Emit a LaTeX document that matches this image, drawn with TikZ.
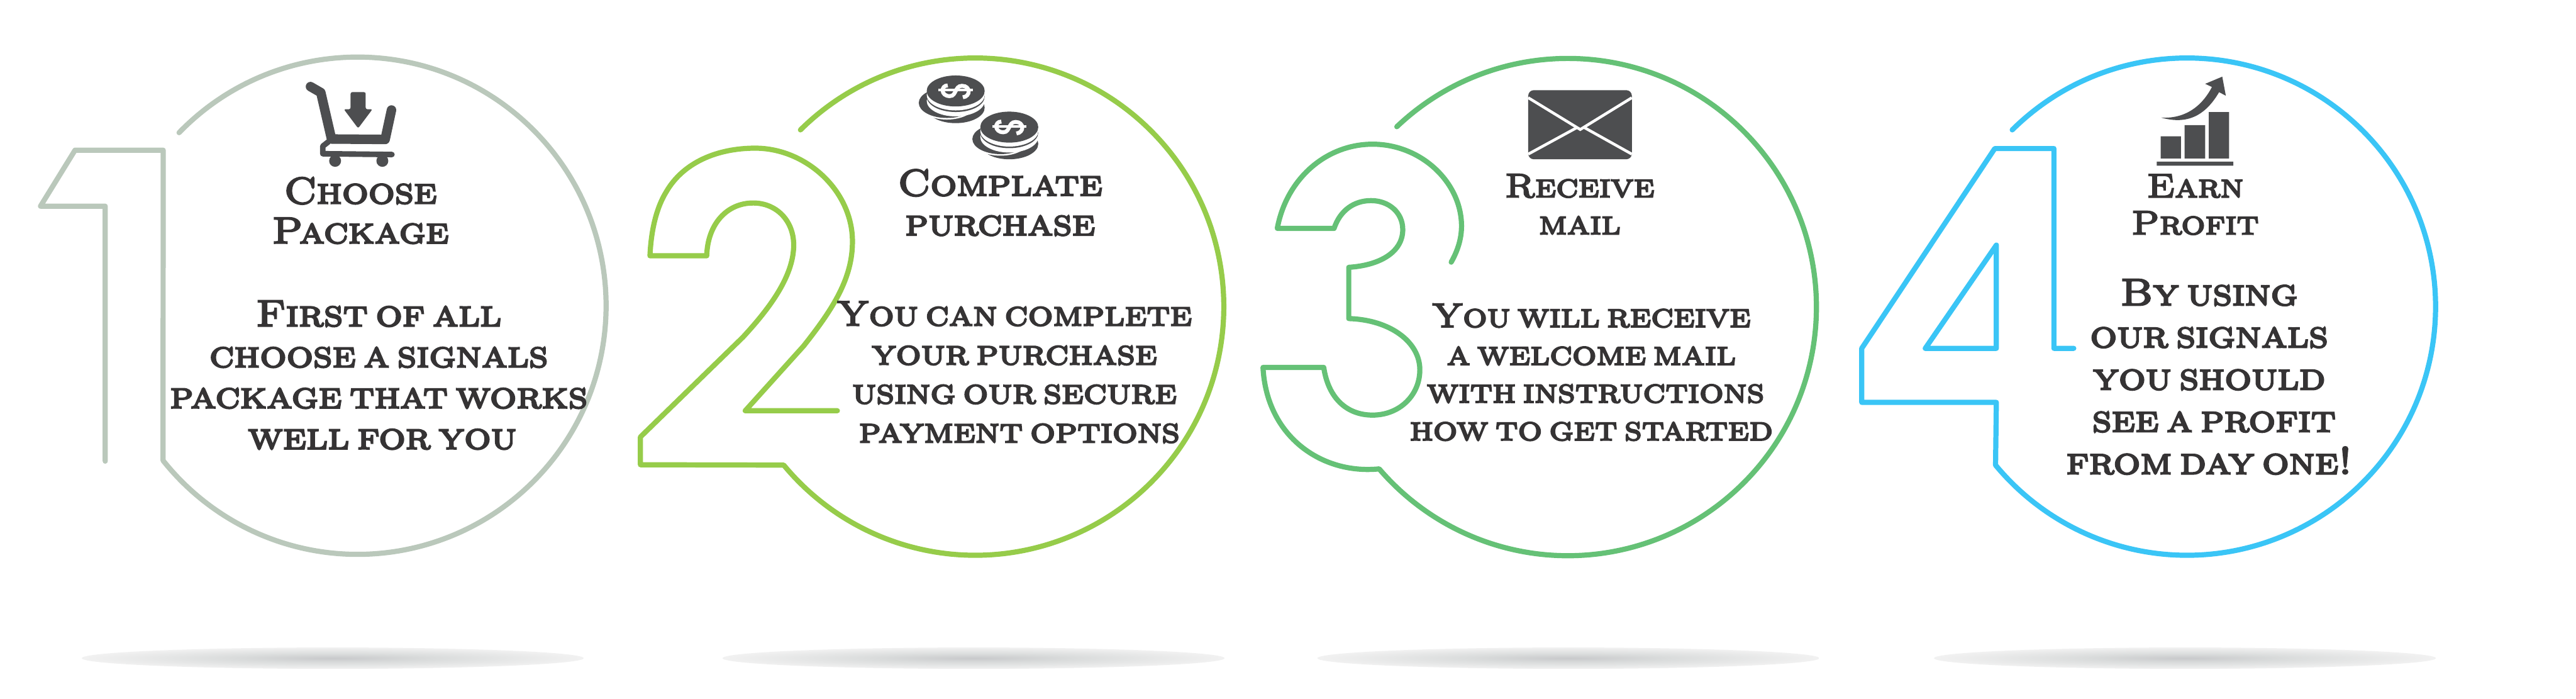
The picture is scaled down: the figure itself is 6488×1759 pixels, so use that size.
\documentclass[tikz,border=0pt]{standalone}
\usepackage{fontspec}
\usepackage{xcolor}
\usetikzlibrary{positioning}
\newfontfamily\engrave[FakeBold=4.5,FakeStretch=1.12,WordSpace=0.5]{Latin Modern Roman Caps}
\definecolor{sagering}{HTML}{BAC8BB}
\definecolor{limering}{HTML}{96CC4A}
\definecolor{grassring}{HTML}{65C176}
\definecolor{skyring}{HTML}{3AC5F6}
\definecolor{inktext}{HTML}{353334}
\definecolor{iconfill}{HTML}{4D4E50}
\definecolor{floorcore}{HTML}{C8C9CB}
\definecolor{floormid}{HTML}{DADCDC}
\definecolor{floorrim}{HTML}{F0F0F0}
\pgfdeclareradialshading{floorshade}{\pgfpoint{0bp}{0bp}}{color(0bp)=(floorcore); color(10bp)=(floormid); color(24bp)=(floorrim); color(35bp)=(white); color(50bp)=(white)}

\begin{document}
\begin{tikzpicture}[x=0.01cm,y=-0.01cm,
  ring/.style={line width=3.7pt,line cap=round,line join=round},
  steptext/.style 2 args={align=center,text=inktext,inner sep=0pt,
                font=\engrave\fontsize{#1}{#2}\selectfont},
  icon/.style={fill=iconfill,draw=none}]
  \useasboundingbox (0,0) rectangle (6488,1759);
  \foreach \cx in {838,2452,3950,5503}
    \shade[shading=floorshade] (\cx,1657) ellipse (632 and 27);

  \draw[ring,sagering] (451,334) arc[start angle=-135.9,end angle=141.5,radius=626]
    -- (411,378) -- (189,378) -- (102,519) -- (265,519) -- (265,1161);
  \draw[ring,limering] (2016,327) arc[start angle=-134.7,end angle=140.4,radius=626]
    -- (1613,1170) -- (1613,1100) -- (1871,849)
    .. controls (1930,785) and (1999,700) .. (1999,617)
    .. controls (1999,555) and (1955,511) .. (1897,511)
    .. controls (1830,511) and (1782,565) .. (1780,644) -- (1637,644)
    .. controls (1640,575) and (1655,520) .. (1678,483)
    .. controls (1720,410) and (1805,373) .. (1902,373)
    .. controls (2030,373) and (2147,480) .. (2147,608)
    .. controls (2147,700) and (2100,775) .. (2024,871)
    -- (1877,1034) -- (2109,1034);
  \draw[ring,grassring] (3518,319) arc[start angle=-133.5,end angle=139.4,radius=626]
    .. controls (3330,1195) and (3190,1100) .. (3181,925) -- (3334,925)
    .. controls (3345,1000) and (3390,1045) .. (3457,1045)
    .. controls (3525,1045) and (3576,995) .. (3576,931)
    .. controls (3576,860) and (3500,805) .. (3397,802) -- (3397,673)
    .. controls (3475,668) and (3533,635) .. (3533,578)
    .. controls (3533,535) and (3498,505) .. (3453,505)
    .. controls (3410,505) and (3375,530) .. (3360,575) -- (3217,575)
    .. controls (3240,450) and (3340,363) .. (3457,363)
    .. controls (3580,363) and (3681,460) .. (3681,569)
    .. controls (3681,600) and (3672,630) .. (3655,660);
  \draw[ring,skyring] (5068,327) arc[start angle=-134.7,end angle=140.4,radius=626]
    -- (5028,1013) -- (4689,1013) -- (4689,877) -- (5024,374) -- (5173,374)
    -- (5173,877) -- (5223,877);
  \draw[ring,skyring] (5028,617) -- (5028,877) -- (4849,877) -- cycle;

  \draw[iconfill,line width=6.8pt,line cap=round,line join=round]
    (782,218) -- (808,233) -- (835,350) -- (970,351) -- (986,277);
  \draw[iconfill,line width=4pt,line cap=round,line join=round]
    (827,357) -- (813,368) -- (813,387) -- (987,389);
  \fill[icon] (844,405) circle (15) (963,405) circle (15);
  \fill[icon,rounded corners=1.2pt] (883,232) -- (921,232) -- (921,275) -- (938,275)
    -- (902,323) -- (866,275) -- (883,275) -- cycle;

  \foreach \cx/\cy in {2407/229,2542/320} {
    \begin{scope}[shift={(\cx,\cy)}]
      \fill[icon] (0,42) ellipse (73 and 39);
      \fill[white] (-22,34) ellipse (71 and 38);
      \fill[icon] (-22,30) ellipse (71 and 38);
      \fill[white] (0,25) ellipse (73 and 39);
      \fill[icon] (0,14) ellipse (73 and 39);
      \fill[white] (0,10) ellipse (73 and 39);
      \fill[icon] (0,0) ellipse (73 and 39);
      \draw[white,line width=2.8pt] (-20,-14) .. controls (-38,-14) and (-38,13) .. (-15,13)
        .. controls (-5,13) and (-3,5) .. (0,0) .. controls (3,-6) and (6,-13) .. (16,-13)
        .. controls (38,-13) and (38,14) .. (18,16);
      \draw[white,line width=1.7pt] (-43,-2) -- (43,-2);
    \end{scope}
  }

  \fill[icon,rounded corners=4pt] (3849,227) rectangle (4110,401);
  \draw[white,line width=2pt] (3849,246) -- (3980,326) -- (4110,246);
  \draw[white,line width=2pt] (3849,388) -- (3972,321) (4110,388) -- (3990,321);

  \fill[icon] (5442,343) rectangle (5493,399) (5502,315) rectangle (5554,399)
    (5563,282) rectangle (5614,399) (5432,407) rectangle (5625,417);
  \fill[icon] (5443,296) .. controls (5510,300) and (5550,260) .. (5571,219) -- (5554,211)
    -- (5597,193) -- (5606,241) -- (5589,232) .. controls (5555,290) and (5510,315) .. (5443,296) -- cycle;

  \node[steptext={26.5}{28.4}] (title1) at (908,530) {Choose\\Package};
  \node[steptext={26.8}{29.3},below=1.42cm of title1,xshift=0.46cm] (body1) {First of all\\choose a signals\\package that works\\\hspace*{5pt}well for you};
  \node[steptext={26.5}{28.4}] (title2) at (2519,510) {Complate\\purchase};
  \node[steptext={25.2}{27.9},below=1.64cm of title2,xshift=0.36cm] (body2) {You can complete\\your purchase\\using our secure\\\hspace*{7pt}payment options};
  \node[steptext={24}{26.5}] (title3) at (3979,514) {Receive\\mail};
  \node[steptext={24.3}{27},below=1.74cm of title3,xshift=0.29cm] (body3) {You will receive\\a welcome mail\\\hspace*{6pt}with instructions\\how to get started};
  \node[steptext={24}{26.5}] (title4) at (5529,515) {Earn\\Profit};
  \node[steptext={27}{30.2},below=1.11cm of title4,xshift=0.35cm] (body4) {By using\\our signals\\you should\\\hspace*{7pt}see a profit\\from day one!};
\end{tikzpicture}
\end{document}
